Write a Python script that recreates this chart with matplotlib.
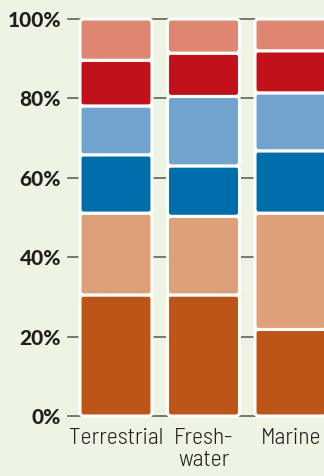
import matplotlib
matplotlib.use("Agg")
import matplotlib.pyplot as plt
from matplotlib.patches import FancyBboxPatch

habitats = ["Terrestrial", "Fresh-\nwater", "Marine"]
# shares per habitat, bottom segment first
dark_orange = [30.5, 30.5, 21.8]
light_orange = [20.6, 19.8, 29.3]
dark_blue = [14.7, 12.7, 15.7]
light_blue = [12.3, 17.5, 14.6]
red = [11.5, 10.9, 10.6]
salmon = [10.4, 8.6, 8.0]

segments = [dark_orange, light_orange, dark_blue, light_blue, red, salmon]
colors = ["#BE5518", "#DEA078", "#006DAB", "#71A3CE", "#C1121C", "#DF8670"]
yticks = [0, 20, 40, 60, 80, 100]

W, H = 324, 476
fig = plt.figure(figsize=(W / 100, H / 100), dpi=100)
fig.patch.set_facecolor("#EDF4E3")

left, right, bottom, top = 68, 324, 416, 19
ax = fig.add_axes([left / W, (H - bottom) / H, (right - left) / W, (bottom - top) / H])
ax.set_facecolor("none")
x0 = -48 / 87.5
ax.set_xlim(x0, x0 + (right - left) / 87.5)
ax.set_ylim(0, 100)

for t in yticks:
    ax.axhline(t, color="#555555", lw=1.1, zorder=0, clip_on=False)

width = 0.823
px_x = 87.5
px_y = (bottom - top) / 100
aspect = (1 / px_y) / (1 / px_x)
for i in range(len(habitats)):
    base = 0
    for vals, c in zip(segments, colors):
        v = vals[i]
        box = FancyBboxPatch((i - width / 2, base), width, v,
                             boxstyle="round,pad=0,rounding_size=%f" % (4 / px_x),
                             mutation_aspect=aspect,
                             facecolor=c, edgecolor="white", linewidth=2.2,
                             zorder=2, clip_on=False)
        ax.add_patch(box)
        base += v

for s in ax.spines.values():
    s.set_visible(False)
ax.set_yticks(yticks)
ax.set_yticklabels([f"{t}%" for t in yticks], fontfamily="Lato",
                   fontweight=900, fontsize=15, color="#231F20")
ax.tick_params(axis="y", length=0, pad=5)
ax.set_xticks(range(len(habitats)))
ax.set_xticklabels(habitats, fontfamily="Barlow Semi Condensed", fontweight=300,
                   fontsize=17, color="#231F20", linespacing=1.05, va="top")
ax.tick_params(axis="x", length=0, pad=9)
# the last label sits a little left of its clipped bar
ax.get_xticklabels()[2].set_x(1.93)

fig.savefig("out.png", dpi=100, facecolor=fig.get_facecolor())
